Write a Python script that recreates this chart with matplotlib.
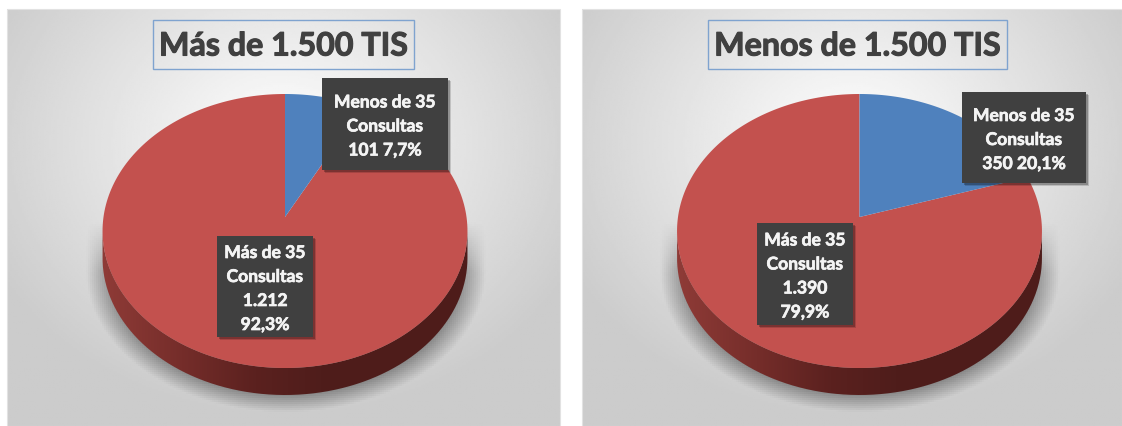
#!/usr/bin/env python3
"""Two pseudo-3D pies: consultations by TIS band."""
import matplotlib
matplotlib.use("Agg")
import matplotlib.patheffects as pe
import matplotlib.pyplot as plt
import numpy as np
from matplotlib.colors import LinearSegmentedColormap
from matplotlib.patches import PathPatch, Polygon, Rectangle
from matplotlib.path import Path

plt.rcParams["font.family"] = ["Lato", "DejaVu Sans"]

W, H = 1122, 427
RED = "#c3514e"
BLUE = "#4f81bd"
BOX = "#404040"

titles = ["Más de 1.500 TIS", "Menos de 1.500 TIS"]
small_counts = [101, 350]
large_counts = [1212, 1390]
small_labels = [
    ["Menos de 35", "Consultas", "101 7,7%"],
    ["Menos de 35", "Consultas", "350 20,1%"],
]
large_labels = [
    ["Más de 35", "Consultas", "1.212", "92,3%"],
    ["Más de 35", "Consultas", "1.390", "79,9%"],
]

# panel x0, x1, pie centre, title box, small label box, large label box
panels = [
    dict(x0=7, x1=560, cx=285, title=(153, 414), small=(322, 448, 79, 171), large=(217, 313, 237, 338)),
    dict(x0=582, x1=1122, cx=859.5, title=(708, 1007), small=(962, 1086, 93, 184), large=(757, 853, 224, 326)),
]

# projective map from the unit disc, so the apex sits above the ellipse centre
APEX_Y, TOP_Y, BOTTOM_Y = 218, 95, 369
PERSP = ((APEX_Y * 2) - (TOP_Y + BOTTOM_Y)) / (TOP_Y - BOTTOM_Y)
SLOPE = TOP_Y * (1 + PERSP) - APEX_Y
RADIUS = 181.5
DEPTH = 27

wall_cmap = LinearSegmentedColormap.from_list(
    "wall", [(0, "#8f3b37"), (0.22, "#752d2a"), (0.42, "#5b211f"), (0.6, "#4f1d1b"), (1, "#4e1c1a")]
)


def project(theta, cx):
    v = np.cos(theta)
    denom = 1 + PERSP * v
    return np.column_stack((cx + RADIUS * np.sin(theta) / denom, (SLOPE * v + APEX_Y) / denom))


def arc(start, stop, cx):
    return project(np.linspace(start, stop, 240), cx)


def draw_background(ax, x0, x1):
    xs, ys = np.meshgrid(np.linspace(0, 1, 280), np.linspace(0, 1, 210))
    dist = np.sqrt((xs - 0.5) ** 2 + ((ys - 0.32) * 0.9) ** 2)
    lum = np.clip(1.0 - 0.34 * dist, 0.80, 0.975)
    ax.imshow(lum, cmap="gray", vmin=0, vmax=1, extent=(x0, x1, H, 10), aspect="auto", zorder=0)
    ax.add_patch(Rectangle((x0, 10), x1 - x0, H - 10, fill=False, ec="#e2e2e2", lw=0.8, zorder=0.5))


def draw_shadow(ax, cx):
    xs, ys = np.meshgrid(np.arange(cx - 215, cx + 215, 2.0), np.arange(215, 425, 2.0))
    e = np.sqrt(((xs - cx) / 194) ** 2 + (np.maximum(ys - 272, 0) / 136) ** 2)
    alpha = np.clip((1.03 - e) / 0.13, 0, 1) * np.clip((ys - 222) / 50, 0, 1) * 0.5
    rgba = np.zeros(alpha.shape + (4,))
    rgba[..., :3] = 0.25
    rgba[..., 3] = alpha
    ax.imshow(rgba, extent=(cx - 215, cx + 215, 425, 215), aspect="auto", zorder=1)


def draw_pie(ax, cx, small, large):
    frac = small / (small + large)
    split = 2 * np.pi * frac
    side = np.arccos(-PERSP)

    # side wall, then the two faces on top of it
    upper = arc(side, 2 * np.pi - side, cx)
    lower = upper[::-1] + [0, DEPTH]
    wall = PathPatch(Path(np.vstack((upper, lower, upper[:1]))), fc="none", ec="none", zorder=2)
    ax.add_patch(wall)
    grad = ax.imshow(
        np.linspace(0, 1, 256)[None, :], cmap=wall_cmap,
        extent=(cx - RADIUS - 2, cx + RADIUS + 2, 400, 230), aspect="auto", zorder=2,
    )
    grad.set_clip_path(wall)

    apex = np.array([[cx, APEX_Y]])
    ax.add_patch(Polygon(np.vstack((apex, arc(split, 2 * np.pi, cx))), fc=RED, ec="none", zorder=3))
    ax.add_patch(Polygon(np.vstack((apex, arc(0, split, cx))), fc=BLUE, ec="none", zorder=3))


def draw_label(ax, box, lines):
    x0, x1, y0, y1 = box
    ax.add_patch(Rectangle(
        (x0, y0), x1 - x0, y1 - y0, fc=BOX, ec="none", zorder=4,
        path_effects=[
            pe.SimplePatchShadow(offset=(2.5, -2.5), shadow_rgbFace="#000000", alpha=0.15),
            pe.SimplePatchShadow(offset=(1.2, -1.2), shadow_rgbFace="#000000", alpha=0.25),
            pe.Normal(),
        ],
    ))
    mid = (y0 + y1) / 2
    for i, line in enumerate(lines):
        y = mid + 2.5 + (i - (len(lines) - 1) / 2) * 24
        ax.text((x0 + x1) / 2, y, line, color="#f4f4f4", fontsize=12.6, fontweight="bold",
                ha="center", va="center", zorder=5,
                path_effects=[pe.withStroke(linewidth=0.5, foreground="#f4f4f4")])


def main():
    fig = plt.figure(figsize=(W / 100, H / 100), dpi=100, facecolor="white")
    ax = fig.add_axes([0, 0, 1, 1])
    for i, p in enumerate(panels):
        draw_background(ax, p["x0"], p["x1"])
        draw_shadow(ax, p["cx"])
        draw_pie(ax, p["cx"], small_counts[i], large_counts[i])
        draw_label(ax, p["small"], small_labels[i])
        draw_label(ax, p["large"], large_labels[i])

        tx0, tx1 = p["title"]
        ax.add_patch(Rectangle((tx0, 21), tx1 - tx0, 49, fill=False, ec="#7fa3cf", lw=1.0, zorder=4))
        ax.text((tx0 + tx1) / 2, 47, titles[i], color=BOX, fontsize=23.2, fontweight="bold",
                ha="center", va="center", zorder=5,
                path_effects=[pe.withStroke(linewidth=0.8, foreground=BOX)])

    ax.set_xlim(0, W)
    ax.set_ylim(H, 0)
    ax.axis("off")
    fig.savefig("out.png", dpi=100)
    plt.close(fig)


if __name__ == "__main__":
    main()
